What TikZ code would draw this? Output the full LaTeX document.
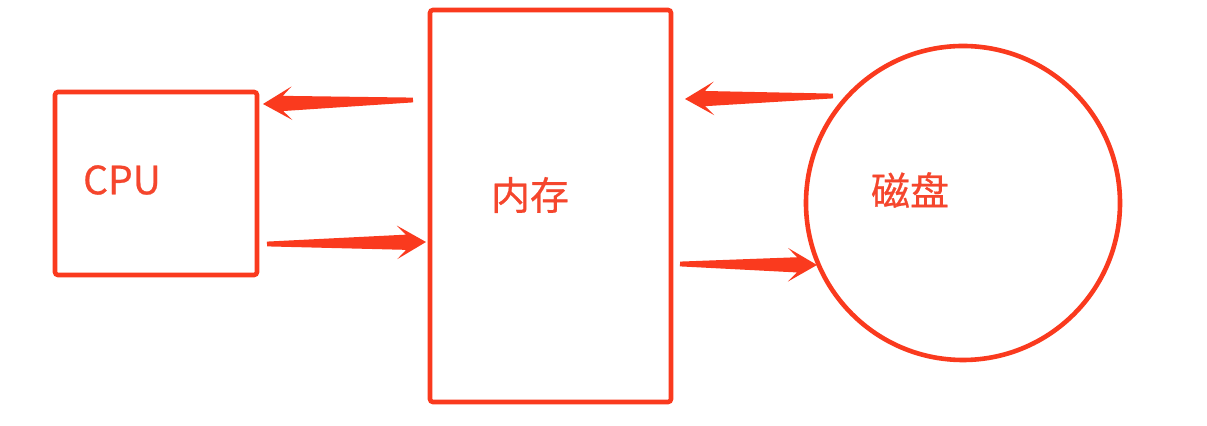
\documentclass[tikz,border=0pt]{standalone}
\usepackage{fontspec}
\setmainfont[FakeBold=0.6]{Noto Sans CJK SC}
\usetikzlibrary{calc}
\definecolor{redline}{RGB}{250,58,30}
\definecolor{redtext}{RGB}{245,70,45}
\newcommand\fatarrow[2]{%
  \pgfmathanglebetweenpoints{\pgfpointanchor{#1}{center}}{\pgfpointanchor{#2}{center}}%
  \let\faang\pgfmathresult
  \pgfpointdiff{\pgfpointanchor{#1}{center}}{\pgfpointanchor{#2}{center}}%
  \pgfgetlastxy\fax\fay
  \pgfmathsetlengthmacro\falen{veclen(\fax,\fay)}%
  \begin{scope}[shift={(#1)}, rotate=\faang]
    \fill[redline] (0pt,1.2pt) -- ({\falen-10pt},3.8pt) -- ({\falen-14.5pt},8.4pt)
      -- (\falen,0pt) -- ({\falen-14.5pt},-8.4pt) -- ({\falen-10pt},-3.8pt)
      -- (0pt,-1.2pt) -- cycle;
  \end{scope}}
\tikzset{
  box/.style={draw=redline, line width=2.3pt, rounded corners=1.5pt, inner sep=0pt},
  disk/.style={draw=redline, line width=2.3pt, circle, inner sep=0pt, minimum size=157pt},
  lbl/.style={text=redtext, font=\fontsize{19.5}{22}\selectfont, inner sep=0pt}
}
\begin{document}
\begin{tikzpicture}[x=0.5pt,y=-0.5pt]
\useasboundingbox (0,0) rectangle (1207,426);
\fill[white] (0,0) rectangle (1207,426);
\node[box, minimum width=101pt, minimum height=91.5pt] (cpu) at (156,183.5) {};
\node[box, minimum width=120.5pt, minimum height=196pt] (mem) at (550.5,206) {};
\node[disk] (disk) at (963,203) {};
\node[lbl] (cputext) at (122,180) {CPU};
\node[lbl] (memtext) at (530,195) {内存};
\node[lbl] (disktext) at (910,190) {磁盘};
\coordinate (a1t) at (413,100);
\coordinate (a1h) at (263,104);
\coordinate (a2t) at (267,244);
\coordinate (a2h) at (426,242);
\coordinate (a3t) at (833,96);
\coordinate (a3h) at (685,99);
\coordinate (a4t) at (680,264);
\coordinate (a4h) at (817,265);
\fatarrow{a1t}{a1h}
\fatarrow{a2t}{a2h}
\fatarrow{a3t}{a3h}
\fatarrow{a4t}{a4h}
\end{tikzpicture}
\end{document}
